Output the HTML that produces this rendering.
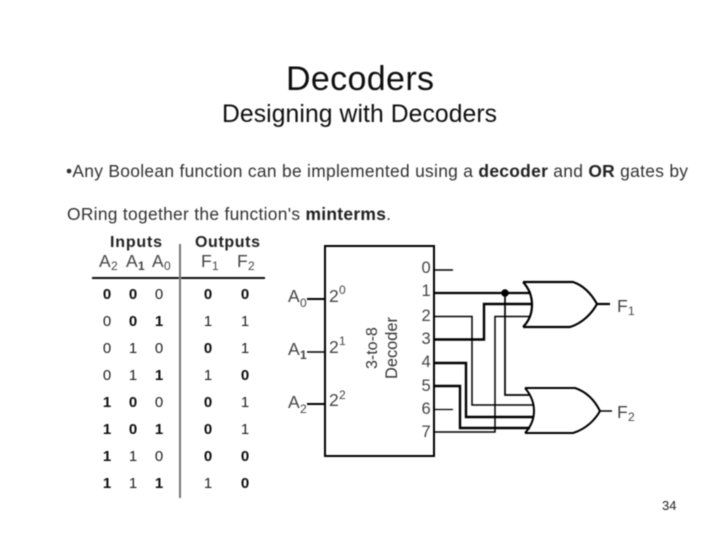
<!DOCTYPE html>
<html><head><meta charset="utf-8">
<style>
html,body{margin:0;padding:0;background:#fff}
svg{display:block}
text{font-family:"Liberation Sans",Arial,sans-serif;fill:#222}
.d{font-size:15px;font-weight:bold;text-anchor:middle;fill:#111}
.r{font-size:15px;text-anchor:middle;fill:#222}
.n{font-size:17.5px;fill:#444}
.o{font-size:16.5px;fill:#444}
.s{font-size:12px;fill:#444}
.w{fill:none;stroke:#000;stroke-linejoin:miter}
</style></head><body>
<svg xmlns="http://www.w3.org/2000/svg" width="720" height="540" viewBox="0 0 720 540">
<defs><filter id="b" x="0" y="0" width="100%" height="100%"><feGaussianBlur stdDeviation="0.45"/></filter></defs>
<rect width="720" height="540" fill="#fff"/>
<g filter="url(#b)">
<text x="286" y="90" font-size="34" textLength="148" style="fill:#111">Decoders</text>
<text x="222" y="122" font-size="24.7" textLength="275" style="fill:#111">Designing with Decoders</text>
<text x="66" y="177" font-size="17.4" textLength="622" lengthAdjust="spacing" style="fill:#333">•Any Boolean function can be implemented using a <tspan font-weight="bold" style="fill:#222">decoder</tspan> and <tspan font-weight="bold" style="fill:#222">OR</tspan> gates by</text>
<text x="67" y="220" font-size="17.4" textLength="324" lengthAdjust="spacing" style="fill:#333">ORing together the function's <tspan font-weight="bold" style="fill:#222">minterms</tspan>.</text>

<!-- truth table -->
<text x="110" y="247" font-size="16" font-weight="bold" textLength="52">Inputs</text>
<text x="195" y="247" font-size="16" font-weight="bold" textLength="65">Outputs</text>
<text x="99" y="267" class="n">A</text><text x="111" y="270" class="s">2</text>
<text x="126" y="267" class="n">A</text><text x="138" y="270" class="s" font-weight="bold">1</text>
<text x="152" y="267" class="n">A</text><text x="164" y="270" class="s">0</text>
<text x="201" y="267" class="n">F</text><text x="212" y="270" class="s">1</text>
<text x="237" y="267" class="n">F</text><text x="248" y="270" class="s">2</text>
<line x1="92" y1="278" x2="265" y2="278" stroke="#111" stroke-width="2"/>
<line x1="180" y1="244" x2="180" y2="498" stroke="#777" stroke-width="2"/>

<text class="d" x="107" y="299">0</text><text class="d" x="133" y="299">0</text><text class="r" x="159" y="299">0</text><text class="d" x="208" y="299">0</text><text class="d" x="245" y="299">0</text>
<text class="r" x="107" y="326">0</text><text class="d" x="133" y="326">0</text><text class="d" x="159" y="326">1</text><text class="r" x="208" y="326">1</text><text class="r" x="245" y="326">1</text>
<text class="r" x="107" y="353">0</text><text class="r" x="133" y="353">1</text><text class="r" x="159" y="353">0</text><text class="d" x="208" y="353">0</text><text class="r" x="245" y="353">1</text>
<text class="r" x="107" y="380">0</text><text class="r" x="133" y="380">1</text><text class="d" x="159" y="380">1</text><text class="r" x="208" y="380">1</text><text class="d" x="245" y="380">0</text>
<text class="d" x="107" y="407">1</text><text class="d" x="133" y="407">0</text><text class="r" x="159" y="407">0</text><text class="d" x="208" y="407">0</text><text class="r" x="245" y="407">1</text>
<text class="d" x="107" y="434">1</text><text class="d" x="133" y="434">0</text><text class="d" x="159" y="434">1</text><text class="d" x="208" y="434">0</text><text class="r" x="245" y="434">1</text>
<text class="d" x="107" y="461">1</text><text class="r" x="133" y="461">1</text><text class="r" x="159" y="461">0</text><text class="d" x="208" y="461">0</text><text class="d" x="245" y="461">0</text>
<text class="d" x="107" y="488">1</text><text class="r" x="133" y="488">1</text><text class="d" x="159" y="488">1</text><text class="r" x="208" y="488">1</text><text class="d" x="245" y="488">0</text>

<!-- decoder -->
<rect x="325" y="246" width="109" height="210" fill="none" stroke="#000" stroke-width="2"/>
<text x="288" y="302" class="n">A</text><text x="300" y="307" class="s">0</text>
<text x="288" y="355" class="n">A</text><text x="300" y="359" class="s" font-weight="bold">1</text>
<text x="288" y="408" class="n">A</text><text x="300" y="413" class="s">2</text>
<line x1="307" y1="299" x2="325" y2="299" class="w" stroke-width="2"/>
<line x1="307" y1="352" x2="325" y2="352" class="w" stroke-width="1.500"/>
<line x1="307" y1="404" x2="325" y2="404" class="w" stroke-width="2"/>
<text x="329" y="302" class="n">2</text><text x="339" y="294" class="s">0</text>
<text x="329" y="353" class="n">2</text><text x="339" y="345" class="s">1</text>
<text x="329" y="406" class="n">2</text><text x="339" y="399" class="s">2</text>
<text transform="translate(377,369) rotate(-90)" font-size="16" style="fill:#333">3-to-8</text>
<text transform="translate(397,379) rotate(-90)" font-size="16.400" style="fill:#333">Decoder</text>
<text x="421.500" y="273" class="o">0</text><text x="421.500" y="296" class="o">1</text><text x="421.500" y="321" class="o">2</text><text x="421.500" y="344" class="o">3</text><text x="421.500" y="367" class="o">4</text><text x="421.500" y="391" class="o">5</text><text x="421.500" y="414" class="o">6</text><text x="421.500" y="437" class="o">7</text>

<!-- wires -->
<line x1="434" y1="270" x2="453" y2="270" class="w" stroke-width="1.500"/>
<line x1="434" y1="409.500" x2="453" y2="409.500" class="w" stroke-width="1.300"/>
<polyline points="434,293 531,293" class="w" stroke-width="2.200"/>
<polyline points="434,339.500 484,339.500 484,304 532,304" class="w" stroke-width="2.400"/>
<polyline points="434,316.500 472,316.500 472,405 533,405" class="w" stroke-width="1.500"/>
<polyline points="434,432 495,432 495,316.500 531,316.500" class="w" stroke-width="1.500"/>
<polyline points="434,363 466,363 466,417 533,417" class="w" stroke-width="2.400"/>
<polyline points="434,386 460,386 460,428 530,428" class="w" stroke-width="2.400"/>
<polyline points="505,293 505,395 530,395" class="w" stroke-width="1.700"/>
<circle cx="505" cy="293" r="3.800" fill="#000"/>

<!-- OR gates -->
<path d="M523,282 H573 C585,286 592,295 597,304 C592,313 583,323 570,327 H523 M523,282 C535,295 535,315 523,327" class="w" stroke-width="2.200"/>
<line x1="597" y1="304" x2="610" y2="304" class="w" stroke-width="2.200"/>
<path d="M525,388 H575 C587,392 595,401 600,411 C595,420 586,429 573,433 H525 M525,388 C537,402 537,420 525,433" class="w" stroke-width="2"/>
<line x1="600" y1="411" x2="612" y2="411" class="w" stroke-width="1.500"/>
<text x="617" y="312" font-size="17.500" style="fill:#444">F</text><text x="628" y="315" class="s">1</text>
<text x="617" y="418" font-size="17.500" style="fill:#444">F</text><text x="628" y="421" class="s">2</text>

<text x="662" y="510" font-size="13" style="fill:#222">34</text>
</g>
</svg>
</body></html>
